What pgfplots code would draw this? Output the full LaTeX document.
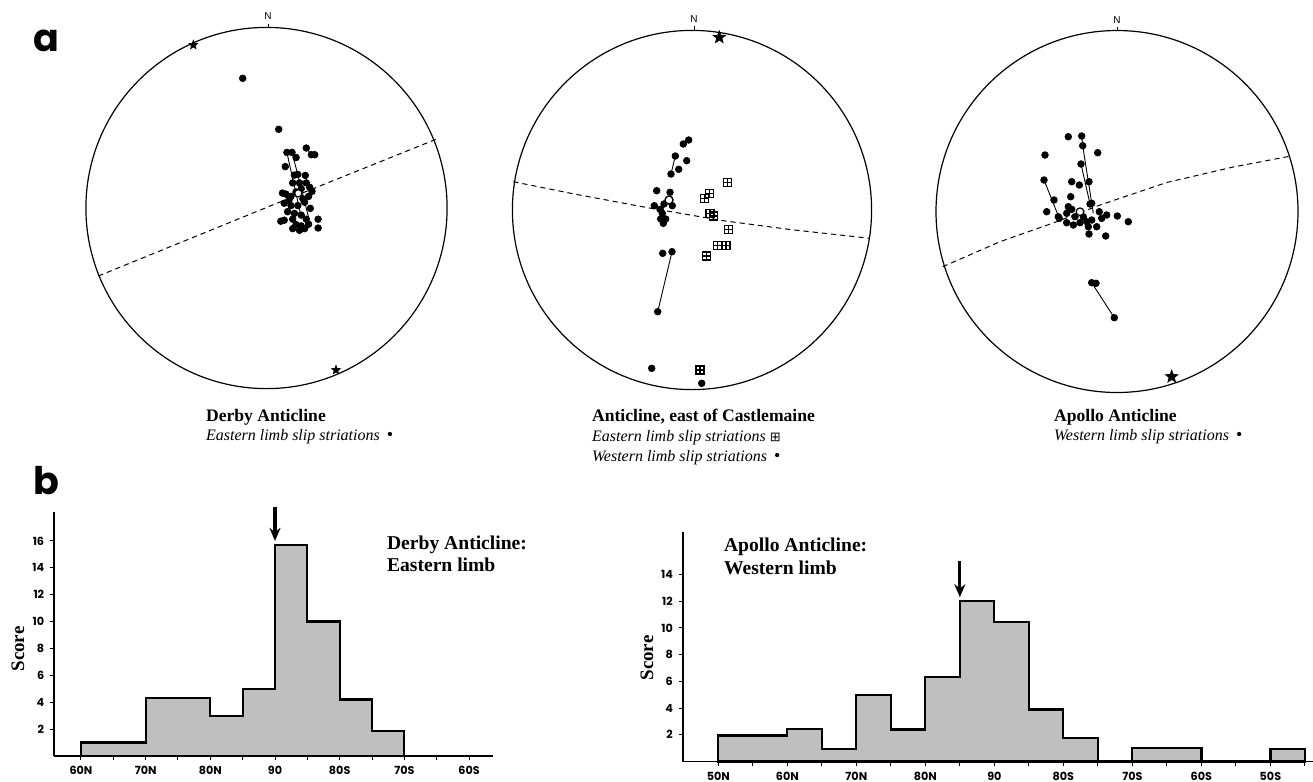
\documentclass[border=0pt]{standalone}
\usepackage{fontspec}
\setmainfont{Liberation Serif}
\newfontfamily\geo{Poppins}
\newfontfamily\sym{DejaVu Sans}
\newfontfamily\nfont{Liberation Sans}
\usepackage{pgfplots}
\pgfplotsset{compat=1.18}
\usetikzlibrary{arrows.meta}

\pgfdeclareplotmark{fstar}{%
  \pgfpathmoveto{\pgfpointpolar{90}{\pgfplotmarksize}}%
  \pgfpathlineto{\pgfpointpolar{126}{0.42\pgfplotmarksize}}%
  \pgfpathlineto{\pgfpointpolar{162}{\pgfplotmarksize}}%
  \pgfpathlineto{\pgfpointpolar{198}{0.42\pgfplotmarksize}}%
  \pgfpathlineto{\pgfpointpolar{234}{\pgfplotmarksize}}%
  \pgfpathlineto{\pgfpointpolar{270}{0.42\pgfplotmarksize}}%
  \pgfpathlineto{\pgfpointpolar{306}{\pgfplotmarksize}}%
  \pgfpathlineto{\pgfpointpolar{342}{0.42\pgfplotmarksize}}%
  \pgfpathlineto{\pgfpointpolar{18}{\pgfplotmarksize}}%
  \pgfpathlineto{\pgfpointpolar{54}{0.42\pgfplotmarksize}}%
  \pgfpathclose\pgfusepathqfillstroke}
\pgfdeclareplotmark{sqplus}{%
  \pgfpathrectangle{\pgfpoint{-\pgfplotmarksize}{-\pgfplotmarksize}}{\pgfpoint{2\pgfplotmarksize}{2\pgfplotmarksize}}%
  \pgfpathmoveto{\pgfpoint{-\pgfplotmarksize}{0pt}}\pgfpathlineto{\pgfpoint{\pgfplotmarksize}{0pt}}%
  \pgfpathmoveto{\pgfpoint{0pt}{-\pgfplotmarksize}}\pgfpathlineto{\pgfpoint{0pt}{\pgfplotmarksize}}%
  \pgfusepathqstroke}

\tikzset{dot/.style={only marks, mark=*, mark size=1.65pt, black},
  seg/.style={black, line width=0.45pt, no marks},
  gc/.style={black, line width=0.5pt, dash pattern=on 2.6pt off 2pt, no marks},
  capb/.style={anchor=base west, font=\bfseries\fontsize{8.8}{10}\selectfont},
  capit/.style={anchor=base west, font=\itshape\fontsize{8}{9}\selectfont},
  htitle/.style={anchor=base west, font=\bfseries\fontsize{9.8}{11}\selectfont}}
\newcommand{\bul}{{\upshape\fontsize{9}{9}\selectfont\,•}}

\pgfplotsset{hist/.style={
  scale only axis, anchor=south west, axis lines*=left,
  axis line style={line width=0.8pt},
  tick align=outside, major tick length=2pt, minor tick length=2pt,
  tick style={black, line width=0.5pt},
  ymin=0, clip=false,
  tick label style={font=\geo\bfseries\fontsize{5.6}{6}\selectfont},
  /pgf/number format/assume math mode=true,
  yticklabel style={xshift=0.6pt},
  xticklabel style={yshift=0.3pt},
}}

\begin{document}
\begin{tikzpicture}
\useasboundingbox (0,0) rectangle (656.5pt,-391pt);
% ---------- panel a : stereonets (pixel coordinates) ----------
\begin{axis}[at={(0,0)}, anchor=north west, scale only axis,
  width=656.5pt, height=391pt, xmin=0, xmax=1313, ymin=0, ymax=782,
  y dir=reverse, hide axis, clip=false]
% circles
\draw[line width=0.6pt] (axis cs:266.5,208) circle[radius=90.3pt];
\draw[line width=0.6pt] (axis cs:692,210) circle[radius=89.8pt];
\draw[line width=0.6pt] (axis cs:1117,211.5) circle[radius=90.5pt];
% north ticks
\draw[line width=0.5pt] (axis cs:268,27.8) -- (axis cs:268,23.5);
\draw[line width=0.5pt] (axis cs:694,30.3) -- (axis cs:694,26);
\draw[line width=0.5pt] (axis cs:1117,31.3) -- (axis cs:1117,27);
\node[anchor=base, font=\nfont\fontsize{5}{6}\selectfont] at (axis cs:268,19) {N};
\node[anchor=base, font=\nfont\fontsize{5}{6}\selectfont] at (axis cs:694,22) {N};
\node[anchor=base, font=\nfont\fontsize{5}{6}\selectfont] at (axis cs:1117,23) {N};
% great circles
\addplot[gc] coordinates {(98.3,276) (280,202) (436,139.3)};
\addplot[gc] coordinates {(513.3,181.7) (573.3,193.8) (646.7,207.5) (723.3,220.7) (790,229.5) (870,238.3)};
\addplot[gc] coordinates {(942.7,266.7) (1000,241.7) (1056.7,221.7) (1100,205) (1166.7,182.5) (1233.3,167) (1291,156)};
% ---- Derby ----
\addplot[seg] coordinates {(287,153) (301,216)};
\addplot[seg] coordinates {(293,156) (309,219)};
\addplot[seg] coordinates {(306.3,148) (311.4,154.7)};
\addplot[dot] coordinates {
(242.7,78.3) (278.7,129.3)
(286.9,152.4) (292.0,152.4) (296.1,157.5) (306.3,148.0) (311.4,154.7) (314.7,154.7)
(285.3,166.6) (294.4,175.1) (297.8,174.4) (305.3,175.4) (306.3,182.9) (299.5,182.9)
(292.7,182.9) (301.2,188.6) (309.7,187.3) (282.5,193.1) (285.9,194.1) (291.0,196.4)
(302.9,198.8) (308.6,196.4) (312.0,191.4) (284.2,203.2) (291.0,205.6) (297.8,205.6)
(304.6,202.2) (310.3,208.3) (287.6,211.7) (294.4,213.4) (301.2,215.1) (306.3,219.2)
(292.7,219.2) (280.8,221.2) (284.2,220.2) (296.1,224.6) (301.2,225.9) (308.6,224.2)
(299.5,230.3) (304.6,228.6) (318.1,219.2) (318.1,228.0) (292.7,228.6) (289,200) (296,192)};
\addplot[only marks, mark=*, mark size=1.8pt, mark options={fill=white, draw=black, line width=0.6pt}] coordinates {(298.3,193.3)};
\addplot[only marks, mark=fstar, mark size=2.2pt, black] coordinates {(193.3,45) (336,370)};
% ---- Castlemaine ----
\addplot[seg] coordinates {(675.3,156) (671,174)};
\addplot[seg] coordinates {(672,251.7) (657.7,311.7)};
\addplot[seg] coordinates {(660,209.3) (664,204) (669,200)};
\addplot[seg] coordinates {(664,204) (662.3,213.3)};
\addplot[seg] coordinates {(683.3,144) (688.7,140)};
\addplot[dot] coordinates {
(688.7,140) (683.3,144) (675.3,156) (686.7,160.7) (678.7,169.3) (671,174)
(656.7,190.7) (670,192.3) (664,204) (672.3,205.7) (654.3,205.7) (660,209.3)
(662.3,213.3) (660.7,219) (665.7,219) (663.3,223.3)
(662.7,253.3) (672,251.7) (657.7,311.7) (651.7,368.3) (701.7,383.3)};
\addplot[only marks, mark=*, mark size=2pt, mark options={fill=white, draw=black, line width=0.7pt}] coordinates {(669,200)};
\addplot[only marks, mark=sqplus, mark size=2pt, mark options={line width=0.75pt, fill=white}] coordinates {
(727.3,182.7) (709.3,193.3) (704.3,198.7) (710,213.3) (713.3,216) (728.7,229.3)
(717.7,245.3) (726,245.3) (706.7,256) (700,370)};
\addplot[only marks, mark=fstar, mark size=3.2pt, black] coordinates {(719.3,37.3)};
% ---- Apollo ----
\addplot[seg] coordinates {(1044,180) (1059.3,218.3)};
\addplot[seg] coordinates {(1081.7,136) (1082.7,145.7) (1093.3,213.3)};
\addplot[seg] coordinates {(1081,164) (1090,204)};
\addplot[seg] coordinates {(1091.7,282.7) (1114.3,317.7)};
\addplot[dot] coordinates {
(1068.3,136.7) (1081.7,136) (1082.7,145.7) (1097.7,152.7) (1045,155) (1081,164)
(1044,180) (1071.7,181.7) (1079.3,185) (1089,181.7) (1070.7,196.7) (1054,200)
(1091.7,203.3) (1090,204) (1046.7,211.7) (1068.3,206.7) (1071.7,209.3)
(1099.3,211.7) (1106.7,215) (1117.3,216) (1128.3,221.7) (1059.3,218.3) (1066.7,213.3)
(1075,216.7) (1083.3,216.7) (1086.7,221.7) (1091.7,220) (1101.7,218.3) (1066.7,222.7)
(1073.3,225) (1080,222.7) (1088.3,226.7) (1096.7,226.7) (1089,234) (1105.7,236)
(1058.3,216.7) (1091.7,282.7) (1096,283.3) (1114.3,317.7)};
\addplot[only marks, mark=*, mark size=1.9pt, mark options={fill=white, draw=black, line width=0.6pt}] coordinates {(1080,211.7)};
\addplot[only marks, mark=fstar, mark size=3.2pt, black] coordinates {(1171.7,376.7)};
% captions
\node[capb] at (axis cs:199,421) {Derby Anticline};
\node[capit] at (axis cs:199,440) {Eastern limb slip striations \bul};
\node[capb] at (axis cs:585,421.7) {Anticline, east of Castlemaine};
\node[capit] at (axis cs:585,441.7) {Eastern limb slip striations {\upshape\sym\fontsize{6.5}{6}\selectfont ⊞}};
\node[capit] at (axis cs:585,461.7) {Western limb slip striations \bul};
\node[capb] at (axis cs:1047,421) {Apollo Anticline};
\node[capit] at (axis cs:1047,440) {Western limb slip striations \bul};
% panel letters
\node[anchor=base west, font=\geo\bfseries\fontsize{19}{19}\selectfont, inner sep=0pt] at (axis cs:33,51) {a};
\node[anchor=base west, font=\geo\bfseries\fontsize{19}{19}\selectfont, inner sep=0pt] at (axis cs:33,494) {b};
% histogram texts
\node[htitle] at (axis cs:380,549) {Derby Anticline:};
\node[htitle] at (axis cs:380,571) {Eastern limb};
\node[htitle] at (axis cs:717,551.7) {Apollo Anticline:};
\node[htitle] at (axis cs:717,574) {Western limb};
\node[rotate=90, font=\bfseries\fontsize{9.5}{10}\selectfont] at (axis cs:18,649) {Score};
\node[rotate=90, font=\bfseries\fontsize{9.5}{10}\selectfont] at (axis cs:647,658) {Score};
\end{axis}
% ---------- panel b : Derby histogram ----------
\begin{axis}[hist, at={(27pt,-378pt)}, width=219.5pt, height=122pt,
  xmin=-4.17, xmax=63.7, ymax=18.15,
  xtick={0,10,...,60}, xticklabels={60N,70N,80N,90,80S,70S,60S},
  minor xtick={5,15,...,55}, ytick={2,4,...,16}]
\addplot[const plot mark left, fill=black!25, draw=black, line width=1.1pt]
  coordinates {(0,1) (10,4.3) (20,3) (25,5) (30,15.7) (35,10) (40,4.2) (45,1.85) (50,0)} \closedcycle;
\draw[line width=1.6pt, -{Stealth[length=6.5pt, width=5.5pt]}] (axis cs:30,18.55) -- (axis cs:30,16.0);
\end{axis}
% ---------- panel b : Apollo histogram ----------
\begin{axis}[hist, at={(341.35pt,-380.75pt)}, width=315.15pt, height=114.9pt,
  xmin=-5.16, xmax=86.17, ymax=17.2,
  xtick={0,10,...,80}, xticklabels={50N,60N,70N,80N,90,80S,70S,60S,50S},
  minor xtick={5,15,...,85}, ytick={2,4,...,14}]
\addplot[const plot mark left, fill=black!25, draw=black, line width=1.1pt]
  coordinates {(0,1.95) (10,2.45) (15,0.95) (20,5) (25,2.4) (30,6.35) (35,12) (40,10.45) (45,3.9) (50,1.75) (55,0) (60,1.0) (70,0) (80,0.95) (85,0)} \closedcycle;
\draw[line width=1.6pt, -{Stealth[length=6.5pt, width=5.5pt]}] (axis cs:35,15.0) -- (axis cs:35,12.3);
\end{axis}
\end{tikzpicture}
\end{document}
